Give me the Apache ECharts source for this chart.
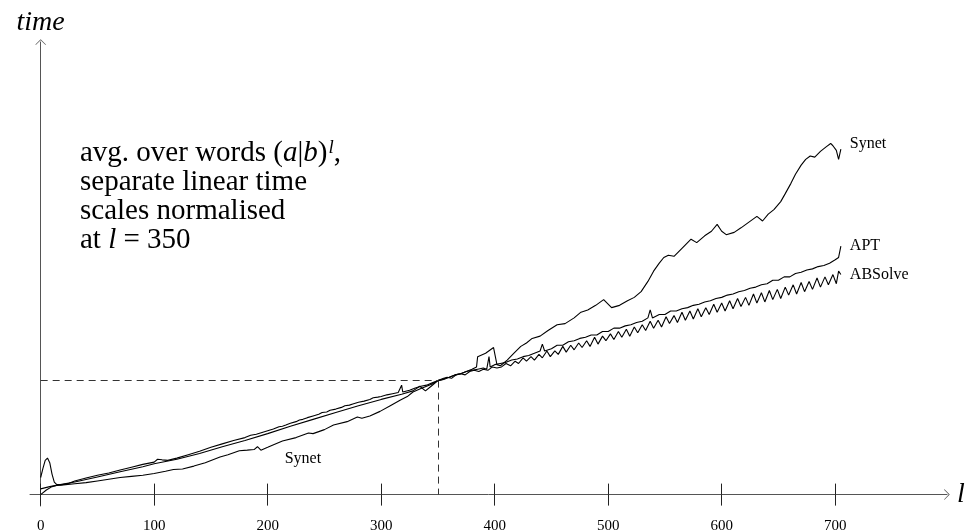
<!DOCTYPE html>
<html>
<head>
<meta charset="utf-8">
<script src="https://cdn.jsdelivr.net/npm/echarts@6/dist/echarts.min.js"></script>
<style>
  html, body { margin: 0; padding: 0; background: #fff; }
  #chart { width: 969px; height: 532px; }
</style>
</head>
<body>
<div id="chart"></div>
<script>
/* running times, normalised so every tool hits 1 at l = 350 */

var tickValues = [0, 100, 200, 300, 400, 500, 600, 700];

var synetX = [0,5,10,14,20,30,40,50,60,70,80,90,100,110,117,125,135,145,158,165,175,182,188,191,194,200,213,225,236,240,250,258,270,279,283,290,299,308,317,323,328,335,340,345,350,355,360,365,370,375,380,384,385,392,399,402,405,411,417,423,428,433,440,447,455,462,470,476,482,489,496,503,510,517,523,529,535,540,545,549,553,558,565,573,578,585,591,596,600,604,611,617,624,631,636,641,646,652,656,661,665,670,674,678,682,687,692,696,698,701,703,705];
var synetY = [0,0.04,0.07,0.08,0.085,0.095,0.105,0.12,0.135,0.15,0.16,0.17,0.185,0.205,0.22,0.225,0.25,0.28,0.33,0.35,0.385,0.39,0.395,0.42,0.39,0.415,0.47,0.5,0.54,0.535,0.57,0.61,0.64,0.68,0.67,0.69,0.73,0.78,0.83,0.86,0.9,0.93,0.95,0.97,1.0,1.01,1.03,1.05,1.06,1.08,1.1,1.12,1.21,1.24,1.29,1.14,1.13,1.18,1.24,1.3,1.33,1.37,1.39,1.44,1.49,1.5,1.55,1.6,1.62,1.66,1.71,1.64,1.66,1.7,1.73,1.78,1.87,1.96,2.03,2.08,2.1,2.09,2.16,2.24,2.21,2.27,2.31,2.37,2.31,2.28,2.3,2.34,2.39,2.44,2.4,2.46,2.5,2.57,2.64,2.73,2.81,2.89,2.94,2.97,2.96,3.01,3.05,3.08,3.06,3.02,2.94,3.03];

var aptX = [0,2,4,6,8,10,12,14,18,25,30,40,50,60,70,80,90,100,103,107,112,120,130,140,150,160,170,180,185,190,195,200,205,210,213,216,220,225,228,231,235,240,245,248,252,255,260,265,268,272,275,280,285,290,293,297,300,305,310,315,318,319,325,330,335,340,345,350,355,360,365,370,375,380,385,390,393,395,396,400,405,410,415,420,425,430,435,440,442,444,450,455,460,465,470,475,480,485,490,495,500,505,510,515,520,525,530,535,537,539,545,550,555,560,565,570,575,580,585,590,595,600,605,610,615,620,625,630,635,640,645,650,655,660,665,670,675,680,685,690,695,700,703,705];
var aptY = [0.15,0.23,0.3,0.32,0.28,0.18,0.11,0.09,0.085,0.1,0.12,0.145,0.17,0.19,0.215,0.24,0.265,0.285,0.31,0.305,0.3,0.32,0.35,0.38,0.415,0.445,0.475,0.5,0.52,0.53,0.545,0.56,0.575,0.595,0.6,0.61,0.625,0.64,0.655,0.66,0.675,0.69,0.705,0.72,0.725,0.74,0.75,0.765,0.78,0.785,0.795,0.81,0.82,0.835,0.85,0.855,0.86,0.875,0.885,0.895,0.96,0.9,0.915,0.935,0.95,0.96,0.98,1.0,1.02,1.03,1.05,1.06,1.08,1.09,1.1,1.11,1.1,1.21,1.12,1.14,1.15,1.16,1.18,1.19,1.21,1.22,1.24,1.26,1.32,1.26,1.28,1.31,1.31,1.34,1.35,1.37,1.38,1.4,1.4,1.43,1.43,1.46,1.46,1.48,1.49,1.51,1.52,1.55,1.62,1.55,1.58,1.58,1.61,1.61,1.63,1.64,1.66,1.67,1.69,1.7,1.72,1.73,1.75,1.76,1.78,1.79,1.81,1.82,1.84,1.85,1.88,1.88,1.91,1.91,1.94,1.95,1.97,1.98,2.0,2.01,2.03,2.06,2.08,2.18];

var absolveX = [0,8,16,30,50,70,90,100,120,140,160,180,200,220,240,260,280,300,318,328,334,339,344,350,354,358,362,366,370,374,378,382,386,390,394,398,402,406,410,414,418,421,425,428,432,435,439,442,446,449,453,456,460,463,467,470,474,477,481,484,488,491,495,498,502,505,509,512,516,519,523,526,530,533,537,540,544,547,551,554,558,561,565,568,572,575,579,582,586,589,593,596,600,603,607,610,614,617,621,624,628,631,635,638,642,645,649,652,656,659,663,666,670,673,677,680,684,687,691,694,698,701,703,705];
var absolveY = [0.05,0.07,0.085,0.11,0.155,0.2,0.245,0.27,0.31,0.36,0.42,0.475,0.535,0.6,0.66,0.72,0.78,0.835,0.88,0.91,0.95,0.91,0.95,1.0,1.01,1.03,1.02,1.05,1.06,1.05,1.08,1.09,1.08,1.1,1.09,1.12,1.11,1.12,1.15,1.13,1.17,1.15,1.2,1.17,1.21,1.18,1.23,1.2,1.26,1.21,1.26,1.23,1.3,1.25,1.31,1.27,1.33,1.29,1.35,1.3,1.38,1.32,1.39,1.35,1.41,1.36,1.43,1.38,1.45,1.39,1.47,1.42,1.49,1.44,1.52,1.46,1.53,1.47,1.56,1.5,1.57,1.51,1.6,1.53,1.61,1.54,1.63,1.56,1.64,1.58,1.67,1.6,1.68,1.61,1.7,1.63,1.72,1.65,1.73,1.66,1.76,1.68,1.77,1.69,1.79,1.71,1.8,1.72,1.82,1.75,1.84,1.76,1.86,1.78,1.87,1.8,1.9,1.82,1.91,1.84,1.93,1.85,1.96,1.93];

var synetLowLabel = [231, 0.31];
var normX = 350;

function pairs(xs, ys) {
  var out = [];
  for (var i = 0; i < xs.length; i++) out.push([xs[i], ys[i]]);
  return out;
}

var serif = 'Liberation Serif';
var lineStyle = { color: '#000', width: 1.1 };

function endLabel(txt, dy) {
  return {
    show: true,
    formatter: txt,
    distance: 9,
    offset: [0, dy],
    color: '#000',
    fontFamily: serif,
    fontSize: 16
  };
}

var chevron = 'path://M0,10 L10,0 L20,10 L18.4,10 L10,2 L1.6,10 Z';

var myChart = echarts.init(document.getElementById('chart'), null, { renderer: 'canvas' });

var option = {
  animation: false,
  backgroundColor: '#fff',
  grid: { left: 30, right: 22, top: 42, bottom: 26, containLabel: false, outerBoundsMode: 'none' },
  xAxis: [
    {
      type: 'value', min: -9.4, max: 798.5, position: 'bottom',
      name: 'l', nameLocation: 'end', nameGap: 10,
      nameTextStyle: { fontFamily: serif, fontStyle: 'italic', fontSize: 28, color: '#000', verticalAlign: 'middle', padding: [0, 0, 6, 0] },
      axisLine: { onZero: true, onZeroAxisIndex: 0, symbol: ['none', chevron], symbolSize: [11, 7], lineStyle: { color: '#555', width: 1 } },
      axisTick: { show: true, length: 11, customValues: tickValues, lineStyle: { color: '#222', width: 1 } },
      axisLabel: { show: true, customValues: tickValues, margin: 13, color: '#000', fontFamily: serif, fontSize: 15 },
      splitLine: { show: false }
    },
    {
      type: 'value', min: -9.4, max: 798.5, position: 'bottom',
      axisLine: { show: false, onZero: true, onZeroAxisIndex: 0 },
      axisTick: { show: true, inside: true, length: 11, customValues: tickValues, lineStyle: { color: '#222', width: 1 } },
      axisLabel: { show: false },
      splitLine: { show: false }
    }
  ],
  yAxis: {
    type: 'value', min: -0.1, max: 3.97,
    name: 'time', nameLocation: 'end', nameGap: 5,
    nameTextStyle: { fontFamily: serif, fontStyle: 'italic', fontSize: 28, color: '#000', align: 'center' },
    axisLine: { onZero: true, symbol: ['none', chevron], symbolSize: [11, 7], lineStyle: { color: '#555', width: 1 } },
    axisTick: { show: false },
    axisLabel: { show: false },
    splitLine: { show: false }
  },
  graphic: [
    {
      type: 'text', left: 80, top: 138,
      style: {
        text: '{n|avg. over words (}{i|a}{n||}{i|b}{n|)}{s|l}{n|,}\n' +
              '{n|separate linear time}\n' +
              '{n|scales normalised}\n' +
              '{n|at }{i|l}{n| = 350}',
        rich: {
          n: { fontFamily: serif, fontSize: 29, lineHeight: 29, fill: '#000' },
          i: { fontFamily: serif, fontSize: 29, lineHeight: 29, fontStyle: 'italic', fill: '#000' },
          s: { fontFamily: serif, fontSize: 19, lineHeight: 17, fontStyle: 'italic', fill: '#000', padding: [0, 0, 12, 1] }
        }
      }
    }
  ],
  series: [
    {
      name: 'Synet', type: 'line', showSymbol: false, xAxisIndex: 0,
      data: pairs(synetX, synetY),
      lineStyle: lineStyle,
      endLabel: endLabel('Synet', -5),
      markLine: {
        silent: true, symbol: 'none',
        label: { show: false },
        lineStyle: { color: '#333', type: [7, 5], width: 1 },
        data: [
          [{ coord: [0, 1] }, { coord: [normX, 1] }],
          [{ coord: [normX, 1] }, { coord: [normX, 0] }]
        ]
      },
      markPoint: {
        silent: true, symbol: 'circle', symbolSize: 0,
        label: { show: true, position: 'inside', formatter: 'Synet', color: '#000', fontFamily: serif, fontSize: 16 },
        data: [{ coord: synetLowLabel }]
      }
    },
    {
      name: 'APT', type: 'line', showSymbol: false, xAxisIndex: 0,
      data: pairs(aptX, aptY),
      lineStyle: lineStyle,
      endLabel: endLabel('APT', 0)
    },
    {
      name: 'ABSolve', type: 'line', showSymbol: false, xAxisIndex: 0,
      data: pairs(absolveX, absolveY),
      lineStyle: lineStyle,
      endLabel: endLabel('ABSolve', 0)
    }
  ]
};

myChart.setOption(option);
</script>
</body>
</html>
